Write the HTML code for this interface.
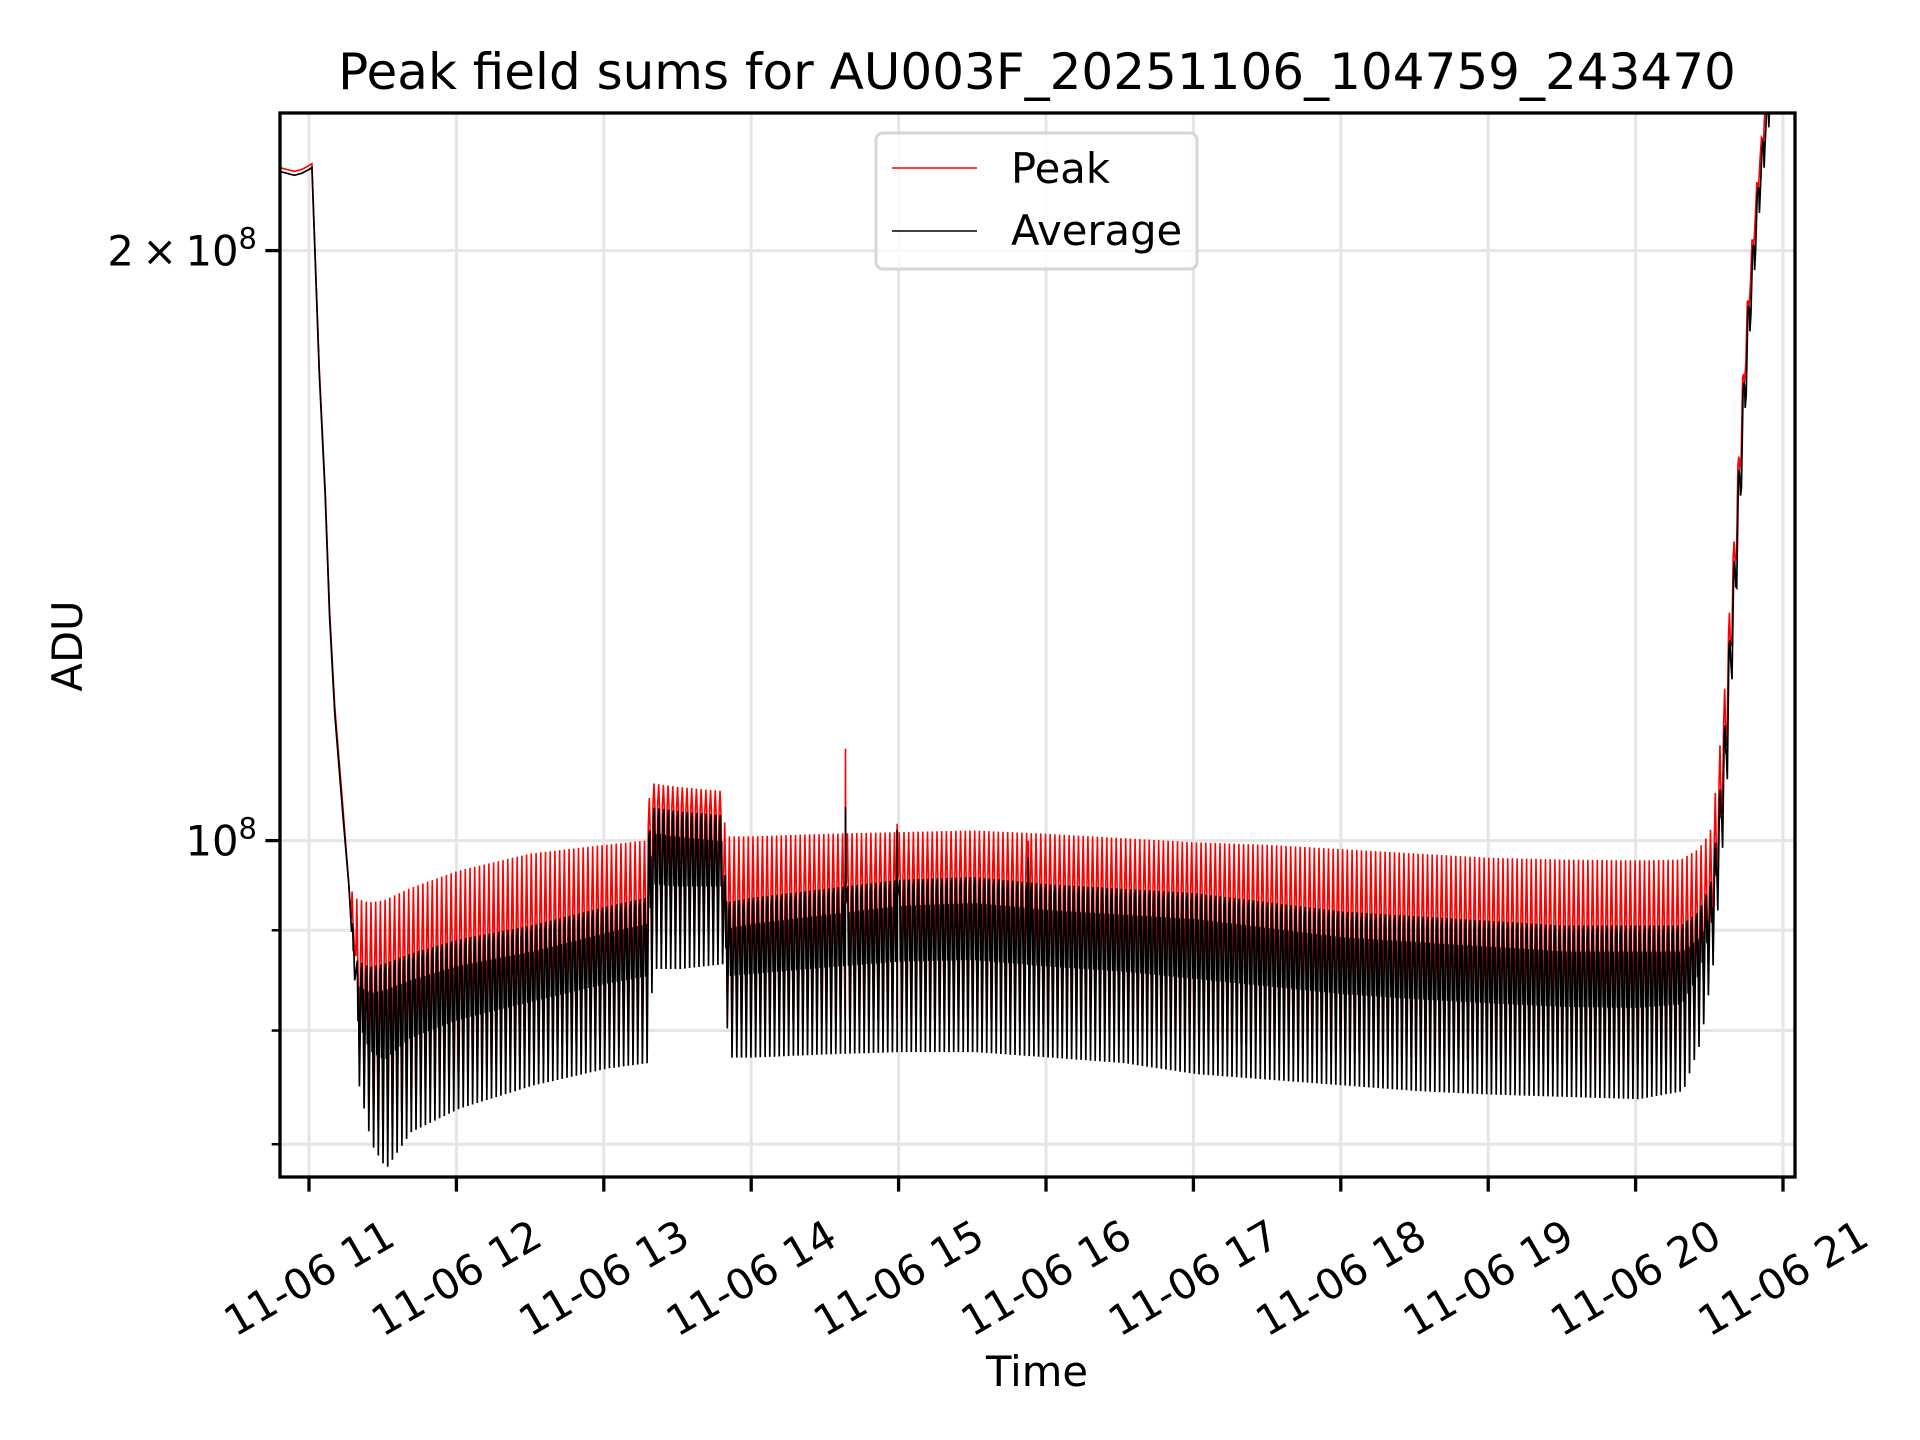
<!DOCTYPE html>
<html><head><meta charset="utf-8"><title>Peak field sums</title>
<style>
html,body{margin:0;padding:0;background:#fff;}
svg{display:block;font-family:"DejaVu Sans","Liberation Sans",sans-serif;}
</style></head>
<body>
<svg id="chart" width="1920" height="1440" viewBox="0 0 1920 1440" xmlns="http://www.w3.org/2000/svg">
<rect width="1920" height="1440" fill="#fff"/>
<defs><clipPath id="plotclip"><rect x="280" y="113" width="1515" height="1064"/></clipPath></defs>
<g id="grid"></g>
<g id="series" clip-path="url(#plotclip)"></g>
<g id="axes"></g>
<text x="1037" y="89" font-size="50" text-anchor="middle">Peak field sums for AU003F_20251106_104759_243470</text>
<text x="1037" y="1386" font-size="41.7" text-anchor="middle">Time</text>
<text transform="translate(82,646) rotate(-90)" font-size="41.7" text-anchor="middle">ADU</text>
<g>
<rect x="876" y="133" width="321" height="136" rx="7" fill="#fff" fill-opacity="0.8" stroke="#d6d6d6" stroke-width="3"/>
<line x1="892" y1="168" x2="977" y2="168" stroke="#ff0000" stroke-width="1.6"/>
<text x="1011" y="183" font-size="41.7">Peak</text>
<line x1="892" y1="231" x2="977" y2="231" stroke="#000" stroke-width="1.6"/>
<text x="1011" y="245" font-size="41.7">Average</text>
</g>
</svg>
<script>
// ---- data (values in units of 1e8 ADU, times in decimal hours on 11-06) ----
const xTickHours = [11,12,13,14,15,16,17,18,19,20,21];
const xTickLabels = ["11-06 11","11-06 12","11-06 13","11-06 14","11-06 15","11-06 16","11-06 17","11-06 18","11-06 19","11-06 20","11-06 21"];
const yMajorTicks = [1, 2];
const yMinorTicks = [0.7, 0.8, 0.9];
// smooth start (before oscillation)
const startTimes = [10.80,10.85,10.90,10.95,11.00,11.02,11.07,11.11,11.14,11.175,11.23,11.27];
const startPeak  = [2.205,2.20,2.195,2.20,2.21,2.215,1.74,1.51,1.31,1.17,1.04,0.95];
const startAvg   = [2.195,2.19,2.185,2.19,2.20,2.205,1.73,1.50,1.30,1.16,1.03,0.95];
// oscillation envelopes
const envTimes  = [11.27,11.30,11.40,11.50,11.67,12.00,12.50,13.00,13.28,13.31,13.50,13.80,13.82,14.00,14.50,15.00,15.50,16.00,16.50,17.00,17.50,18.00,18.50,19.00,19.50,20.00,20.30,20.42,20.50,20.55,20.60,20.67,20.75,20.83,20.92];
const peakHigh  = [0.95,0.935,0.93,0.932,0.945,0.965,0.985,0.995,1.00,1.07,1.065,1.06,1.005,1.005,1.008,1.01,1.012,1.008,1.003,0.998,0.995,0.99,0.985,0.98,0.978,0.977,0.978,0.99,1.01,1.08,1.20,1.45,1.85,2.20,2.50];
const avgHigh   = [0.95,0.87,0.862,0.865,0.875,0.89,0.905,0.925,0.935,1.04,1.035,1.03,0.93,0.935,0.945,0.955,0.958,0.95,0.945,0.94,0.93,0.92,0.915,0.91,0.905,0.905,0.905,0.92,0.95,1.02,1.15,1.42,1.84,2.19,2.50];
const avgLow    = [0.95,0.76,0.70,0.68,0.71,0.73,0.75,0.765,0.77,0.86,0.86,0.865,0.775,0.775,0.778,0.78,0.78,0.775,0.77,0.76,0.755,0.75,0.745,0.742,0.74,0.738,0.745,0.79,0.86,0.95,1.08,1.38,1.82,2.18,2.50];
const cyclePeriod = 0.032; // hours per cycle
// isolated spikes
const spikeTimes = [14.64, 14.99, 15.88];
const spikePeak  = [1.114, 1.02, 1.00];
const spikeAvg   = [1.04, 1.013, 0.98];

// ---- axis functions ----
const AX = {left:280, right:1795, top:113, bottom:1177};
const X0 = 11, XPX0 = 309, PX_PER_HOUR = 147.4;
const Y1PX = 840.6, PX_PER_DECADE = 1960;
function xs(h){ return XPX0 + (h - X0) * PX_PER_HOUR; }
function ys(v){ return Y1PX - Math.log10(v) * PX_PER_DECADE; }
function interp(arrT, arrV, t){
  if (t <= arrT[0]) return arrV[0];
  for (let i=1;i<arrT.length;i++){ if (t<=arrT[i]){ const f=(t-arrT[i-1])/(arrT[i]-arrT[i-1]); return arrV[i-1]+f*(arrV[i]-arrV[i-1]); } }
  return arrV[arrV.length-1];
}
const NS = "http://www.w3.org/2000/svg";
function mk(tag, attrs, parent){ const e=document.createElementNS(NS,tag); for(const k in attrs) e.setAttribute(k, attrs[k]); if(parent) parent.appendChild(e); return e; }

const grid = document.getElementById('grid');
const axes = document.getElementById('axes');
const series = document.getElementById('series');

// grid lines
xTickHours.forEach((h,i)=>{
  const x = xs(h);
  if (x < AX.left || x > AX.right) return;
  const g = mk('line',{x1:x,x2:x,y1:AX.top,y2:AX.bottom,stroke:'#e5e5e5','stroke-width':3},grid);
  
  
});
yMajorTicks.concat(yMinorTicks).forEach(v=>{
  const y = ys(v);
  const g = mk('line',{x1:AX.left,x2:AX.right,y1:y,y2:y,stroke:'#e5e5e5','stroke-width':3},grid);
  
  
});

// series construction
let peakPts = [], avgPts = [];
for (let i=0;i<startTimes.length;i++){ peakPts.push([startTimes[i], startPeak[i]]); avgPts.push([startTimes[i], startAvg[i]]); }
const tEnd = envTimes[envTimes.length-1];
let t = envTimes[0] + cyclePeriod*0.5;
while (t < tEnd){
  const ph = interp(envTimes, peakHigh, t), ah = interp(envTimes, avgHigh, t), al = interp(envTimes, avgLow, t);
  peakPts.push([t, ah*1.005]); peakPts.push([t+cyclePeriod*0.2, ph]); peakPts.push([t+cyclePeriod*0.4, ah*1.0]);
  peakPts.push([t+cyclePeriod*0.7, al*1.04]);
  avgPts.push([t+cyclePeriod*0.1, ah*0.99]); avgPts.push([t+cyclePeriod*0.3, ah]);
  avgPts.push([t+cyclePeriod*0.45, (ah+al)/2]); avgPts.push([t+cyclePeriod*0.55, ah*0.97]);
  avgPts.push([t+cyclePeriod*0.75, al]);
  t += cyclePeriod;
}
// spikes
spikeTimes.forEach((st,i)=>{
  const ah = interp(envTimes, avgHigh, st);
  peakPts.push([st-0.002, ah],[st, spikePeak[i]],[st+0.002, ah]);
  avgPts.push([st-0.002, ah*0.98],[st, spikeAvg[i]],[st+0.002, ah*0.98]);
});
peakPts.sort((a,b)=>a[0]-b[0]);
avgPts.sort((a,b)=>a[0]-b[0]);
function pathD(pts){ return pts.map((p,i)=>(i?'L':'M')+xs(p[0]).toFixed(1)+','+ys(p[1]).toFixed(1)).join(''); }
const peakLine = mk('path',{d:pathD(peakPts),fill:'none',stroke:'#ff0000','stroke-width':1.6},series);


const avgLine = mk('path',{d:pathD(avgPts),fill:'none',stroke:'#000','stroke-width':1.7},series);



// spines
const spine = mk('rect',{x:AX.left,y:AX.top,width:AX.right-AX.left,height:AX.bottom-AX.top,fill:'none',stroke:'#000','stroke-width':3.3},axes);



// x ticks
xTickHours.forEach((h,i)=>{
  const x = xs(h);
  const tk = mk('line',{x1:x,x2:x,y1:AX.bottom,y2:AX.bottom+14.6,stroke:'#000','stroke-width':3.3},axes);
  
  
  const lb = mk('text',{transform:'translate('+x+',1278) rotate(-30)','font-size':41.7,'text-anchor':'middle','dominant-baseline':'central'},axes);
  lb.textContent = xTickLabels[i];
  
  
});
// y ticks
yMajorTicks.forEach(v=>{
  const y = ys(v);
  const tk = mk('line',{x1:AX.left-14.6,x2:AX.left,y1:y,y2:y,stroke:'#000','stroke-width':3.3},axes);
  
  
  const lb = mk('text',{x:257,y:y+15,'font-size':41.7,'text-anchor':'end'},axes);
  
  
  const pre = v===1 ? '10' : v+'\u2009\u00d7\u200910';
  const t1 = mk('tspan',{},lb); t1.textContent = pre;
  const t2 = mk('tspan',{dy:-17,'font-size':29},lb); t2.textContent='8';
});
yMinorTicks.forEach(v=>{
  const y = ys(v);
  const tk = mk('line',{x1:AX.left-8.3,x2:AX.left,y1:y,y2:y,stroke:'#000','stroke-width':2.5},axes);
  
  
});
</script>
</body></html>
